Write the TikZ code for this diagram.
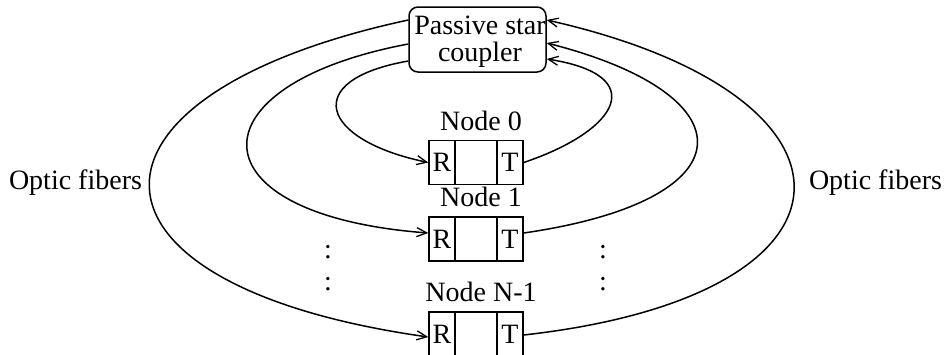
\documentclass[tikz,border=0pt]{standalone}
\usepackage{fontspec}
\setmainfont{Liberation Serif}
\usepackage{tikz}
\usetikzlibrary{arrows.meta}
\usetikzlibrary{shapes,positioning}
\tikzset{fiber-line/.style={line width=1.5pt}}
\tikzset{fiber/.style={fiber-line, -{Straight Barb[length=10pt, width=9pt, line width=1.3pt]}}}
\tikzset{coupler-box/.style={draw, line width=1.5pt, inner sep=0, minimum width=137pt, minimum height=65pt, rounded corners=9pt}}
\tikzset{station-box/.style={draw, line width=1.5pt, inner sep=0, minimum width=94pt, minimum height=44pt}}
\tikzset{station-cell/.style={station-box, minimum width=26pt}}
\tikzset{station-label/.style={inner sep=0}}
\newcommand{\station}[3]{
    \node[station-box, #2] (station#1) {};
    \node[station-cell, anchor=west] (station#1r) at (station#1.west) {R};
    \node[station-cell, anchor=east] (station#1t) at (station#1.east) {T};
    \node[station-label, above=9pt of station#1.north, xshift=5pt] (label#1) {#3};
}

\begin{document}
\begin{tikzpicture}[x=1pt, y=-1pt, font=\fontsize{28}{27}\selectfont]
    \useasboundingbox (0,0) rectangle (947,354);

    \node[coupler-box] (coupler) at (477.5,39.5) {};
    \node[inner sep=0, align=center] (couplertext) at (480,42) {Passive star\\coupler};

    \station{0}{at={(476,162.5)}}{Node 0}
    \station{1}{at={(476,239)}}{Node 1}
    \station{n}{at={(476,334)}}{Node N-1}

    % coupler -> receivers
    \draw[fiber] ([yshift=-21.5pt]coupler.west) .. controls (300,80) and (320,140) .. (station0r.west);
    \draw[fiber] ([yshift=-4.5pt]coupler.west) .. controls (190,85) and (190,215) .. ([yshift=6pt]station1r.west);
    \draw[fiber] ([yshift=19.5pt]coupler.west) .. controls (60,95) and (60,285) .. ([yshift=-3pt]stationnr.west);

    % transmitters -> coupler
    \draw[fiber] (station0t.east) .. controls (620,130) and (650,75) .. ([yshift=-19.5pt]coupler.east);
    \draw[fiber] ([yshift=6pt]station1t.east) .. controls (751,200) and (751,95) .. ([yshift=-3.5pt]coupler.east);
    \draw[fiber] ([yshift=-1pt]stationnt.east) .. controls (880,295) and (880,95) .. ([yshift=19.5pt]coupler.east);

    \node[inner sep=0] (leftlabel) at (75.5,183) {Optic fibers};
    \node[inner sep=0] (rightlabel) at (875.5,183) {Optic fibers};

    \node[anchor=base, inner sep=0] (ldots1) at (328,258) {:};
    \node[anchor=base, inner sep=0] (ldots2) at (328,290) {:};
    \node[anchor=base, inner sep=0] (rdots1) at (603,258) {:};
    \node[anchor=base, inner sep=0] (rdots2) at (603,290) {:};
\end{tikzpicture}
\end{document}
